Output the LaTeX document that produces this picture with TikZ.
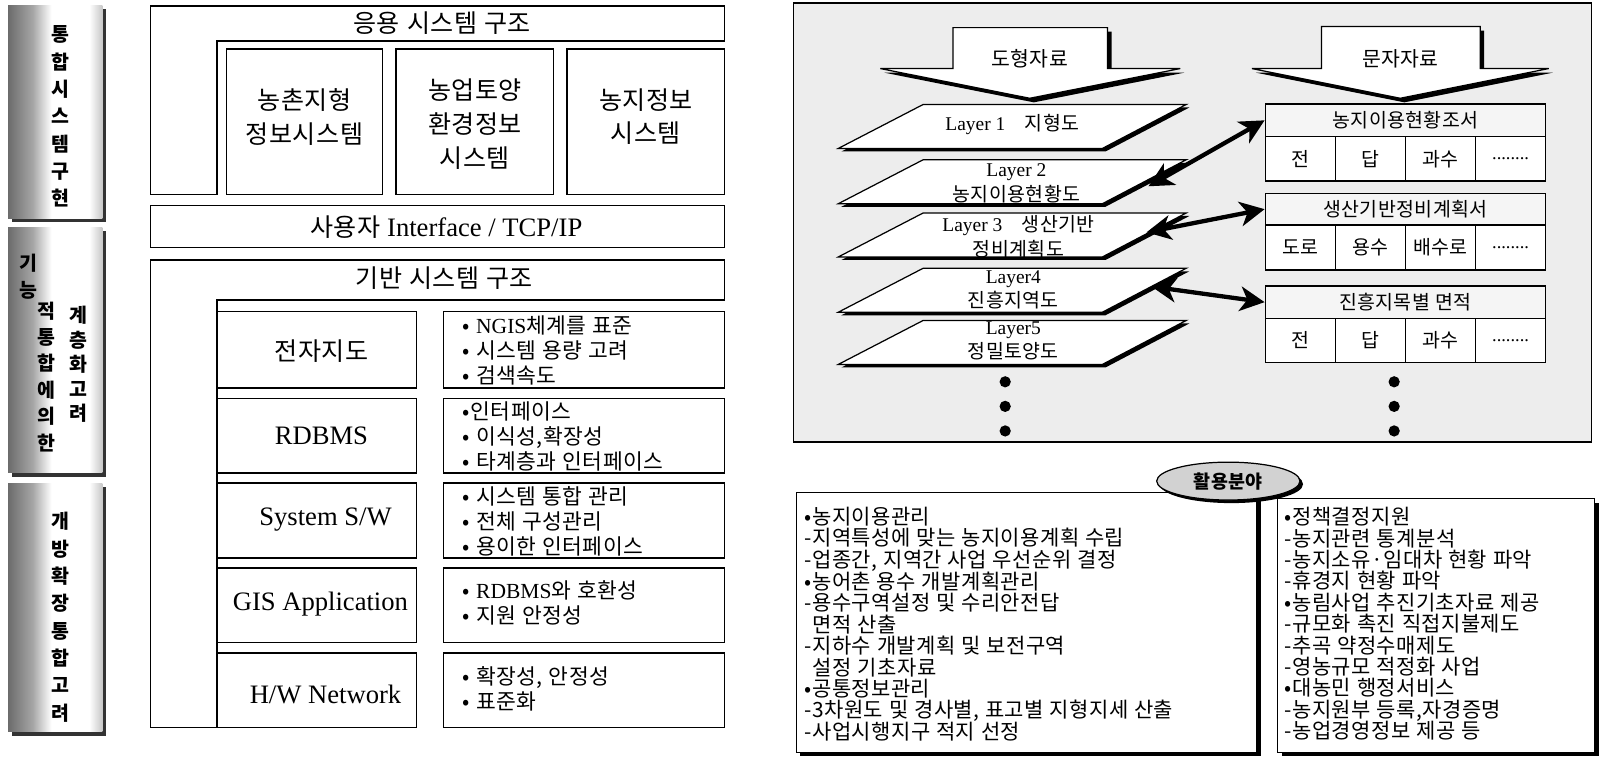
\documentclass[tikz,border=0pt]{standalone}
\usepackage{fontspec}
\setmainfont{Liberation Serif}
\newfontfamily\kr{Noto Sans CJK KR}
\newfontfamily\krw{Noto Sans CJK KR}[LetterSpace=2,WordSpace=1.4]
\newfontfamily\krl{Noto Sans CJK KR}[LetterSpace=2,WordSpace=1.15]
\usetikzlibrary{arrows.meta,shapes.geometric,calc}
\pgfdeclarehorizontalshading{barshade}{100bp}{color(0bp)=(black!85); color(18bp)=(black!70); color(38bp)=(black!35); color(48bp)=(white); color(68bp)=(white); color(84bp)=(black!50); color(94bp)=(black!85); color(100bp)=(black!95)}
\tikzset{
  frame/.style={draw, line width=1.3pt},
  box/.style={draw, line width=1.3pt, fill=white, inner sep=0pt},
  krL/.style={font=\krw\fontsize{24.5}{33}\selectfont},
  enL/.style={font=\fontsize{26}{30}\selectfont},
  bul/.style={font=\krw\fontsize{21}{24.5}\selectfont, align=left, anchor=west, inner sep=0pt},
  vtxt/.style={font=\kr\bfseries\fontsize{19}{26.7}\selectfont, align=center, inner sep=0pt},
  lay/.style={draw, line width=1.2pt, fill=white},
  laytxt/.style={font=\fontsize{19}{24}\selectfont, align=center, inner sep=0pt},
  cell/.style={draw, line width=1.1pt, fill=white, minimum width=68.5pt, inner sep=0pt, font=\krw\fontsize{19}{20}\selectfont},
  head/.style={draw, line width=1.1pt, fill=gray!8, minimum width=274pt, inner sep=0pt, font=\krw\fontsize{19}{20}\selectfont},
  dbl/.style={line width=4.2pt, {Stealth[length=24pt,width=24pt,inset=7pt]}-{Stealth[length=24pt,width=24pt,inset=7pt]}},
  lst/.style={font=\krl\fontsize{20.5}{20.9}\selectfont, align=left, anchor=west, inner sep=0pt},
  dot/.style={circle, fill=black, minimum size=11pt, inner sep=0pt}
}
\begin{document}
\begin{tikzpicture}[x=1pt,y=-1pt,line join=miter]
\useasboundingbox (0,0) rectangle (1568,743);
\fill[white] (0,0) rectangle (1568,743);

% ---------- left gradient bars ----------
\fill[black!80] (12,9) rectangle (104,217);
\shade[shading=barshade] (8,5) rectangle (100,213);
\node[vtxt] (b1) at (59,114) {통\\합\\시\\스\\템\\구\\현};

\fill[black!80] (12,226) rectangle (104,466);
\shade[shading=barshade] (8,222) rectangle (100,462);
\node[vtxt] (b2a) at (28,270) {기\\능};
\node[vtxt,font=\kr\bfseries\fontsize{19}{25.8}\selectfont] (b2b) at (45,368) {적\\통\\합\\에\\의\\한};
\node[vtxt,font=\kr\bfseries\fontsize{19}{24}\selectfont] (b2c) at (77,356) {계\\층\\화\\고\\려};

\fill[black!80] (12,476) rectangle (104,719);
\shade[shading=barshade] (8,472) rectangle (100,715);
\node[vtxt] (b3) at (59,603) {개\\방\\확\\장\\통\\합\\고\\려};

% ---------- application structure ----------
\draw[frame] (147,6) -- (708,6) -- (708,40) -- (212,40) -- (212,190) -- (147,190) -- cycle;
\node[krL] (app) at (432,23) {응용 시스템 구조};
\node[box, minimum width=153pt, minimum height=142pt] (s1) at (297.5,119) {};
\node[krL, align=center] (s1t) at (297.5,114) {농촌지형\\정보시스템};
\node[box, minimum width=154pt, minimum height=142pt] (s2) at (464,119) {};
\node[krL, align=center] (s2t) at (464,121) {농업토양\\환경정보\\시스템};
\node[box, minimum width=154pt, minimum height=142pt] (s3) at (631,119) {};
\node[krL, align=center] (s3t) at (631,114) {농지정보\\시스템};

\node[box, minimum width=561pt, minimum height=41pt] (ui) at (427.5,221.5) {};
\node[font=\fontsize{26}{30}\selectfont] (uit) at (436,222) {{\krw\fontsize{24.5}{30}\selectfont 사용자} Interface / TCP/IP};

% ---------- base structure ----------
\draw[frame] (147,254) -- (708,254) -- (708,293) -- (212,293) -- (212,711) -- (147,711) -- cycle;
\node[krL] (base) at (434,272) {기반 시스템 구조};

\node[box, minimum width=195pt, minimum height=74.5pt] (m1) at (309.5,341.75) {};
\node[box, minimum width=195pt, minimum height=73pt] (m2) at (309.5,425.5) {};
\node[box, minimum width=195pt, minimum height=73pt] (m3) at (309.5,508.5) {};
\node[box, minimum width=195pt, minimum height=73pt] (m4) at (309.5,591.5) {};
\node[box, minimum width=195pt, minimum height=73pt] (m5) at (309.5,674.5) {};
\node[krL] (m1t) at (314,343) {전자지도};
\node[enL] (m2t) at (314,426) {RDBMS};
\node[enL] (m3t) at (318,508) {System S/W};
\node[enL] (m4t) at (313,590) {GIS Application};
\node[enL] (m5t) at (318,678) {H/W Network};

\node[box, minimum width=275pt, minimum height=74.5pt] (r1) at (570.5,341.75) {};
\node[box, minimum width=275pt, minimum height=73pt] (r2) at (570.5,425.5) {};
\node[box, minimum width=275pt, minimum height=73pt] (r3) at (570.5,508.5) {};
\node[box, minimum width=275pt, minimum height=73pt] (r4) at (570.5,591.5) {};
\node[box, minimum width=275pt, minimum height=73pt] (r5) at (570.5,674.5) {};
\node[bul] (r1t) at (452,342) {• {\rmfamily NGIS}체계를 표준\\• 시스템 용량 고려\\• 검색속도};
\node[bul] (r2t) at (452,426.5) {•인터페이스\\• 이식성,확장성\\• 타계층과 인터페이스};
\node[bul] (r3t) at (452,509.5) {• 시스템 통합 관리\\• 전체 구성관리\\• 용이한 인터페이스};
\node[bul] (r4t) at (452,589) {• {\rmfamily RDBMS}와 호환성\\• 지원 안정성};
\node[bul] (r5t) at (452,673) {• 확장성, 안정성\\• 표준화};

% ---------- right top panel ----------
\draw[line width=1.5pt, fill=gray!14] (775,3) rectangle (1555,432);

% big arrows
\fill[black, shift={(4,4)}] (931,27) -- (1082,27) -- (1082,67) -- (1153,67) -- (1006,96) -- (860,67) -- (931,67) -- cycle;
\draw[line width=1.2pt, fill=white] (931,27) -- (1082,27) -- (1082,67) -- (1153,67) -- (1006,96) -- (860,67) -- (931,67) -- cycle;
\node[font=\krw\fontsize{20}{21}\selectfont] (ga) at (1006,57) {도형자료};
\fill[black, shift={(4,4)}] (1291,26) -- (1446,26) -- (1446,67) -- (1513,67) -- (1368,96) -- (1223,67) -- (1291,67) -- cycle;
\draw[line width=1.2pt, fill=white] (1291,26) -- (1446,26) -- (1446,67) -- (1513,67) -- (1368,96) -- (1223,67) -- (1291,67) -- cycle;
\node[font=\krw\fontsize{20}{21}\selectfont] (ta) at (1368,57) {문자자료};

% layers
\foreach \t in {102,156,208,262,313}{
  \fill[black, shift={(3,3)}] (902,\t) -- (1159,\t) -- (1077,\t+43) -- (819,\t+43) -- cycle;
  \draw[lay] (902,\t) -- (1159,\t) -- (1077,\t+43) -- (819,\t+43) -- cycle;
}
\node[laytxt] (L1) at (989,122) {Layer 1\quad{\krw\fontsize{19}{20}\selectfont 지형도}};
\node[laytxt] (L2) at (993,179) {Layer 2\\{\krw\fontsize{19}{20}\selectfont 농지이용현황도}};
\node[laytxt] (L3) at (995,231) {Layer 3\quad{\krw\fontsize{19}{20}\selectfont 생산기반}\\{\krw\fontsize{19}{20}\selectfont 정비계획도}};
\node[laytxt] (L4) at (990,283) {Layer4\\{\krw\fontsize{19}{20}\selectfont 진흥지역도}};
\node[laytxt] (L5) at (990,333) {Layer5\\{\krw\fontsize{19}{20}\selectfont 정밀토양도}};

% tables
\node[head, minimum height=31.9pt] (t1h) at (1373,117.55) {농지이용현황조서};
\node[cell, minimum height=43.3pt] (t1a) at (1270.25,155.15) {전};
\node[cell, minimum height=43.3pt] (t1b) at (1338.75,155.15) {답};
\node[cell, minimum height=43.3pt] (t1c) at (1407.25,155.15) {과수};
\node[cell, minimum height=43.3pt, font=\fontsize{18}{20}\selectfont] (t1d) at (1475.75,155.15) {........};

\node[head, minimum height=30.9pt] (t2h) at (1373,204.35) {생산기반정비계획서};
\node[cell, minimum height=44pt] (t2a) at (1270.25,241.8) {도로};
\node[cell, minimum height=44pt] (t2b) at (1338.75,241.8) {용수};
\node[cell, minimum height=44pt] (t2c) at (1407.25,241.8) {배수로};
\node[cell, minimum height=44pt, font=\fontsize{18}{20}\selectfont] (t2d) at (1475.75,241.8) {........};

\node[head, minimum height=31.6pt] (t3h) at (1373,295.2) {진흥지목별 면적};
\node[cell, minimum height=43pt] (t3a) at (1270.25,332.5) {전};
\node[cell, minimum height=43pt] (t3b) at (1338.75,332.5) {답};
\node[cell, minimum height=43pt] (t3c) at (1407.25,332.5) {과수};
\node[cell, minimum height=43pt, font=\fontsize{18}{20}\selectfont] (t3d) at (1475.75,332.5) {........};

% double arrows
\coordinate (e1) at (1122,182);
\coordinate (e2) at (1120,227);
\coordinate (e3) at (1125,280);
\draw[dbl] (e1) -- (t1h.west);
\draw[dbl] (e2) -- (t2h.west);
\draw[dbl] (e3) -- (t3h.west);

% dots
\foreach \y [count=\i] in {373,397,421}{
  \node[dot] (dl\i) at (982,\y) {};
  \node[dot] (dr\i) at (1362,\y) {};
}

% ---------- bottom boxes ----------
\fill[black] (782,485) rectangle (1232,739);
\node[box, minimum width=450pt, minimum height=254pt] (lb) at (1003,608) {};
\fill[black] (1252,491) rectangle (1562,739);
\node[box, minimum width=310pt, minimum height=248pt] (rb) at (1403,611) {};
\fill[black] (1203,473) ellipse [x radius=70, y radius=18.5];
\node[ellipse, draw, line width=1.2pt, fill=gray!35, minimum width=140pt, minimum height=37pt, inner sep=0pt, font=\krw\bfseries\fontsize{18}{19}\selectfont] (el) at (1200,470) {활용분야};

\node[lst] (lt) at (786,609.5) {•농지이용관리\\
 -지역특성에 맞는 농지이용계획 수립\\
 -업종간, 지역간 사업 우선순위 결정\\
•농어촌 용수 개발계획관리\\
 -용수구역설정 및 수리안전답\\
 \hspace*{8pt}면적 산출\\
 -지하수 개발계획 및 보전구역\\
 \hspace*{8pt}설정 기초자료\\
•공통정보관리\\
 -3차원도 및 경사별, 표고별 지형지세 산출\\
 -사업시행지구 적지 선정};
\node[lst] (rt) at (1255,609.5) {•정책결정지원\\
 -농지관련 통계분석\\
 -농지소유·임대차 현황 파악\\
 -휴경지 현황 파악\\
•농림사업 추진기초자료 제공\\
 -규모화 촉진 직접지불제도\\
 -추곡 약정수매제도\\
 -영농규모 적정화 사업\\
•대농민 행정서비스\\
 -농지원부 등록,자경증명\\
 -농업경영정보 제공 등};
\end{tikzpicture}
\end{document}
